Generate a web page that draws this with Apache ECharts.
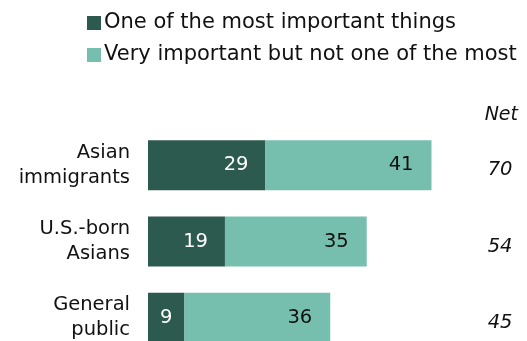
<!DOCTYPE html>
<html>
<head>
<meta charset="utf-8">
<script src="https://cdn.jsdelivr.net/npm/echarts@6/dist/echarts.min.js"></script>
<style>
  html, body { margin: 0; padding: 0; background: #fff; }
  #chart { width: 527px; height: 341px; }
</style>
</head>
<body>
<div id="chart"></div>
<script>
// data
const categories = ["Asian\nimmigrants", "U.S.-born\nAsians", "General\npublic"];
const mostImportant = [29, 19, 9];
const veryImportant = [41, 35, 36];
const netValues = mostImportant.map((v, i) => v + veryImportant[i]);
const netColumnX = 90; // x value where the Net column sits

const DARK = "#2c5a4e";
const LIGHT = "#76bfae";
const FONT = "DejaVu Sans";
const TEXT = "#111";

let chart = echarts.init(document.getElementById("chart"));

chart.setOption({
  animation: false,
  textStyle: { fontFamily: FONT, color: TEXT },
  title: {
    text: "Net",
    right: 9,
    top: 106,
    padding: 0,
    textStyle: { fontFamily: FONT, fontSize: 19, fontStyle: "italic", fontWeight: "normal", color: TEXT }
  },
  legend: {
    orient: "vertical",
    left: 82,
    top: 6,
    itemWidth: 14,
    itemHeight: 14,
    itemGap: 8,
    icon: "rect",
    textStyle: { fontFamily: FONT, fontSize: 21, lineHeight: 24, color: TEXT, padding: [0, 0, 0, -2] },
    data: ["One of the most important things", "Very important but not one of the most"]
  },
  grid: {
    left: 148,
    top: 127,
    width: 405,
    height: 229,
    outerBoundsMode: "none"
  },
  xAxis: {
    type: "value",
    min: 0,
    max: 100,
    show: false
  },
  yAxis: {
    type: "category",
    inverse: true,
    data: categories,
    axisLine: { show: false },
    axisTick: { show: false },
    axisLabel: {
      margin: 18,
      fontFamily: FONT,
      fontSize: 19.5,
      lineHeight: 25,
      color: TEXT,
      align: "right"
    }
  },
  series: [
    {
      name: "One of the most important things",
      type: "bar",
      stack: "total",
      barWidth: 50,
      itemStyle: { color: DARK },
      label: {
        show: true,
        position: "insideRight",
        distance: 17,
        color: "#fff",
        fontFamily: FONT,
        fontSize: 19.5
      },
      // narrow bars get their label centred
      data: mostImportant.map(v => v < 10 ? { value: v, label: { position: "inside" } } : v)
    },
    {
      name: "Very important but not one of the most",
      type: "bar",
      stack: "total",
      barWidth: 50,
      itemStyle: { color: LIGHT },
      label: {
        show: true,
        position: "insideRight",
        distance: 18,
        color: TEXT,
        fontFamily: FONT,
        fontSize: 19.5
      },
      data: veryImportant
    },
    {
      type: "scatter",
      symbolSize: 0,
      silent: true,
      itemStyle: { opacity: 1 },
      label: {
        show: true,
        position: "left",
        distance: 0,
        offset: [0, 5],
        fontFamily: FONT,
        fontSize: 19.5,
        fontStyle: "italic",
        color: TEXT,
        formatter: p => netValues[p.dataIndex]
      },
      data: categories.map((c, i) => [netColumnX, i])
    }
  ]
});
</script>
</body>
</html>
